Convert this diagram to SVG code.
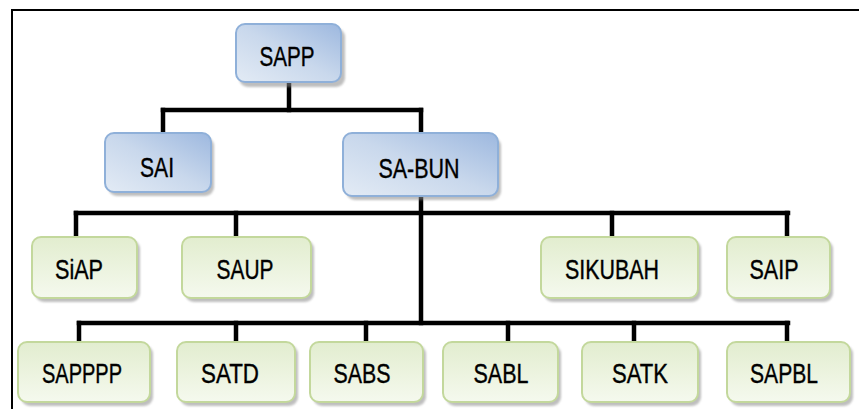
<svg xmlns="http://www.w3.org/2000/svg" width="859" height="409" viewBox="0 0 859 409">
<defs>
<linearGradient id="gBlue" x1="0" y1="1" x2="1" y2="0">
<stop offset="0" stop-color="#e3ebf5"/>
<stop offset="0.5" stop-color="#c9d8ec"/>
<stop offset="1" stop-color="#9db8df"/>
</linearGradient>
<linearGradient id="gGreen" x1="0" y1="0" x2="0" y2="1">
<stop offset="0" stop-color="#e2edcf"/>
<stop offset="1" stop-color="#f5f9ee"/>
</linearGradient>
<filter id="blur" x="-10%" y="-10%" width="120%" height="130%"><feGaussianBlur stdDeviation="1"/></filter>
</defs>
<style>
.frame{stroke:#000;stroke-width:2;fill:none}
.conn line{stroke:#000;stroke-width:4.5;stroke-linecap:square}
.shadow{fill:#8a8a8a;opacity:0.55;filter:url(#blur)}
.blue{fill:url(#gBlue);stroke:#8fb0d9;stroke-width:2}
.green{fill:url(#gGreen);stroke:#c3d89c;stroke-width:2}
text{font-family:"Liberation Sans",Arial,sans-serif;font-size:28px;fill:#000;stroke:#000;stroke-width:0.4;text-anchor:middle}
</style>
<rect width="859" height="409" fill="#fff"/>
<path class="frame" d="M12 409 V10 H859"/>
<g id="connectors" class="conn">
<line x1="289" y1="82" x2="289" y2="110"/>
<line x1="163" y1="110" x2="421" y2="110"/>
<line x1="163" y1="110" x2="163" y2="133"/>
<line x1="421" y1="110" x2="421" y2="133"/>
<line x1="421" y1="196" x2="421" y2="323"/>
<line x1="76" y1="213" x2="788" y2="213"/>
<line x1="76" y1="213" x2="76" y2="237"/>
<line x1="236" y1="213" x2="236" y2="237"/>
<line x1="612" y1="213" x2="612" y2="237"/>
<line x1="787" y1="213" x2="787" y2="237"/>
<line x1="79" y1="323" x2="788" y2="323"/>
<line x1="79" y1="323" x2="79" y2="342"/>
<line x1="236" y1="323" x2="236" y2="342"/>
<line x1="366" y1="323" x2="366" y2="342"/>
<line x1="508" y1="323" x2="508" y2="342"/>
<line x1="634" y1="323" x2="634" y2="342"/>
<line x1="787" y1="323" x2="787" y2="342"/>
</g>
<g id="SAPP">
<rect class="shadow" x="239" y="28" width="106" height="59" rx="9"/>
<rect class="blue" x="236" y="24" width="105" height="58" rx="9"/>
<text x="287" y="66" textLength="55" lengthAdjust="spacingAndGlyphs">SAPP</text>
</g>
<g id="SAI">
<rect class="shadow" x="108" y="137" width="106" height="59" rx="9"/>
<rect class="blue" x="105" y="133" width="106" height="59" rx="9"/>
<text x="157" y="177" textLength="34" lengthAdjust="spacingAndGlyphs">SAI</text>
</g>
<g id="SA-BUN">
<rect class="shadow" x="346" y="137" width="155" height="63" rx="9"/>
<rect class="blue" x="343" y="133" width="155" height="63" rx="9"/>
<text x="419" y="178" textLength="81" lengthAdjust="spacingAndGlyphs">SA-BUN</text>
</g>
<g id="SiAP">
<rect class="shadow" x="35" y="240" width="105" height="62" rx="9"/>
<rect class="green" x="32" y="237" width="105" height="61" rx="9"/>
<text x="79" y="279" textLength="48" lengthAdjust="spacingAndGlyphs">SiAP</text>
</g>
<g id="SAUP">
<rect class="shadow" x="185" y="240" width="129" height="62" rx="9"/>
<rect class="green" x="182" y="237" width="129" height="61" rx="9"/>
<text x="245" y="279" textLength="57" lengthAdjust="spacingAndGlyphs">SAUP</text>
</g>
<g id="SIKUBAH">
<rect class="shadow" x="544" y="240" width="157" height="62" rx="9"/>
<rect class="green" x="541" y="237" width="157" height="61" rx="9"/>
<text x="612" y="279" textLength="94" lengthAdjust="spacingAndGlyphs">SIKUBAH</text>
</g>
<g id="SAIP">
<rect class="shadow" x="730" y="240" width="103" height="62" rx="9"/>
<rect class="green" x="727" y="237" width="103" height="61" rx="9"/>
<text x="774" y="279" textLength="49" lengthAdjust="spacingAndGlyphs">SAIP</text>
</g>
<g id="SAPPPP">
<rect class="shadow" x="21" y="345" width="132" height="61" rx="9"/>
<rect class="green" x="18" y="342" width="132" height="60" rx="9"/>
<text x="82" y="383" textLength="80" lengthAdjust="spacingAndGlyphs">SAPPPP</text>
</g>
<g id="SATD">
<rect class="shadow" x="180" y="345" width="118" height="61" rx="9"/>
<rect class="green" x="177" y="342" width="118" height="60" rx="9"/>
<text x="230" y="383" textLength="58" lengthAdjust="spacingAndGlyphs">SATD</text>
</g>
<g id="SABS">
<rect class="shadow" x="313" y="345" width="113" height="61" rx="9"/>
<rect class="green" x="310" y="342" width="113" height="60" rx="9"/>
<text x="362" y="383" textLength="57" lengthAdjust="spacingAndGlyphs">SABS</text>
</g>
<g id="SABL">
<rect class="shadow" x="446" y="345" width="115" height="61" rx="9"/>
<rect class="green" x="443" y="342" width="115" height="60" rx="9"/>
<text x="501" y="383" textLength="55" lengthAdjust="spacingAndGlyphs">SABL</text>
</g>
<g id="SATK">
<rect class="shadow" x="585" y="345" width="116" height="61" rx="9"/>
<rect class="green" x="582" y="342" width="116" height="60" rx="9"/>
<text x="640" y="383" textLength="56" lengthAdjust="spacingAndGlyphs">SATK</text>
</g>
<g id="SAPBL">
<rect class="shadow" x="730" y="345" width="123" height="61" rx="9"/>
<rect class="green" x="727" y="342" width="123" height="60" rx="9"/>
<text x="784" y="383" textLength="68" lengthAdjust="spacingAndGlyphs">SAPBL</text>
</g>
</svg>
